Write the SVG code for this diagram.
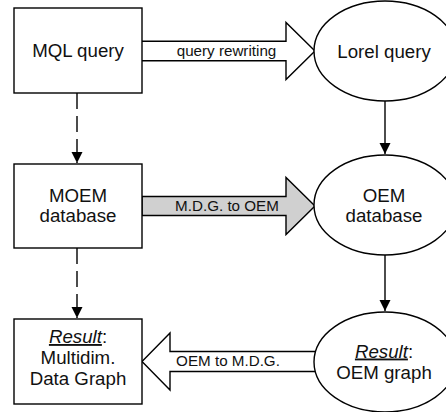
<svg xmlns="http://www.w3.org/2000/svg" width="446" height="412" viewBox="0 0 446 412">
<defs>
<style>
.box{fill:#fff;stroke:#000;stroke-width:1.4}
.t{font-family:"Liberation Sans",Arial,sans-serif;font-size:18.7px;fill:#111;text-anchor:middle}
.l{font-family:"Liberation Sans",Arial,sans-serif;font-size:15.2px;fill:#111;text-anchor:middle}
.big{stroke:#000;stroke-width:1.4;stroke-linejoin:miter}
.c{stroke:#000;stroke-width:1.4;fill:none}
.dash{stroke-dasharray:16 7}
.r{font-style:italic;text-decoration:underline}
</style>
<marker id="ah" markerUnits="userSpaceOnUse" markerWidth="12" markerHeight="13" refX="11" refY="5.5" orient="auto" viewBox="0 0 12 11">
<path d="M0,0 L11,5.5 L0,11 Z" fill="#000"/>
</marker>
</defs>
<g id="connectors">
<path class="c dash" d="M77,93 V163" marker-end="url(#ah)"/>
<path class="c dash" d="M77,248 V318" marker-end="url(#ah)"/>
<path class="c" d="M385,101 V154" marker-end="url(#ah)"/>
<path class="c" d="M385,255 V311" marker-end="url(#ah)"/>
<g id="arrow-rewrite">
<path class="big" fill="#fff" d="M142,41.2 H286 V22.5 L315,51 L286,79.5 V60.8 H142"/>
<text class="l" x="226.5" y="55.5">query rewriting</text>
</g>
<g id="arrow-mdg2oem">
<path class="big" fill="#d0d0d0" d="M142,196.5 H286 V177.5 L315,206 L286,234.5 V215.5 H142 Z"/>
<text class="l" x="227" y="211">M.D.G. to OEM</text>
</g>
<g id="arrow-oem2mdg">
<path class="big" fill="#fff" d="M318,351.5 H170 V333 L142,361.5 L170,390 V371.5 H318"/>
<text class="l" x="228" y="366">OEM to M.D.G.</text>
</g>
</g>
<g id="mql">
<rect class="box" x="14" y="8" width="128" height="85"/>
<text class="t" x="78" y="57">MQL query</text>
</g>
<g id="moem">
<rect class="box" x="14" y="164" width="128" height="84"/>
<text class="t" x="78" y="201.5">MOEM</text>
<text class="t" x="78" y="222.3">database</text>
</g>
<g id="result-mdg">
<rect class="box" x="14" y="319" width="128" height="85"/>
<text class="t" x="78" y="343"><tspan class="r">Result</tspan>:</text>
<text class="t" x="78" y="364">Multidim.</text>
<text class="t" x="78" y="385">Data Graph</text>
</g>
<g id="lorel">
<ellipse class="box" cx="385" cy="51" rx="71" ry="50"/>
<text class="t" x="384" y="57.5">Lorel query</text>
</g>
<g id="oemdb">
<ellipse class="box" cx="385" cy="205" rx="71" ry="50"/>
<text class="t" x="384" y="201.5">OEM</text>
<text class="t" x="384" y="222.3">database</text>
</g>
<g id="result-oem">
<ellipse class="box" cx="385" cy="362" rx="71" ry="50"/>
<text class="t" x="384" y="357.5"><tspan class="r">Result</tspan>:</text>
<text class="t" x="384" y="379">OEM graph</text>
</g>
</svg>
